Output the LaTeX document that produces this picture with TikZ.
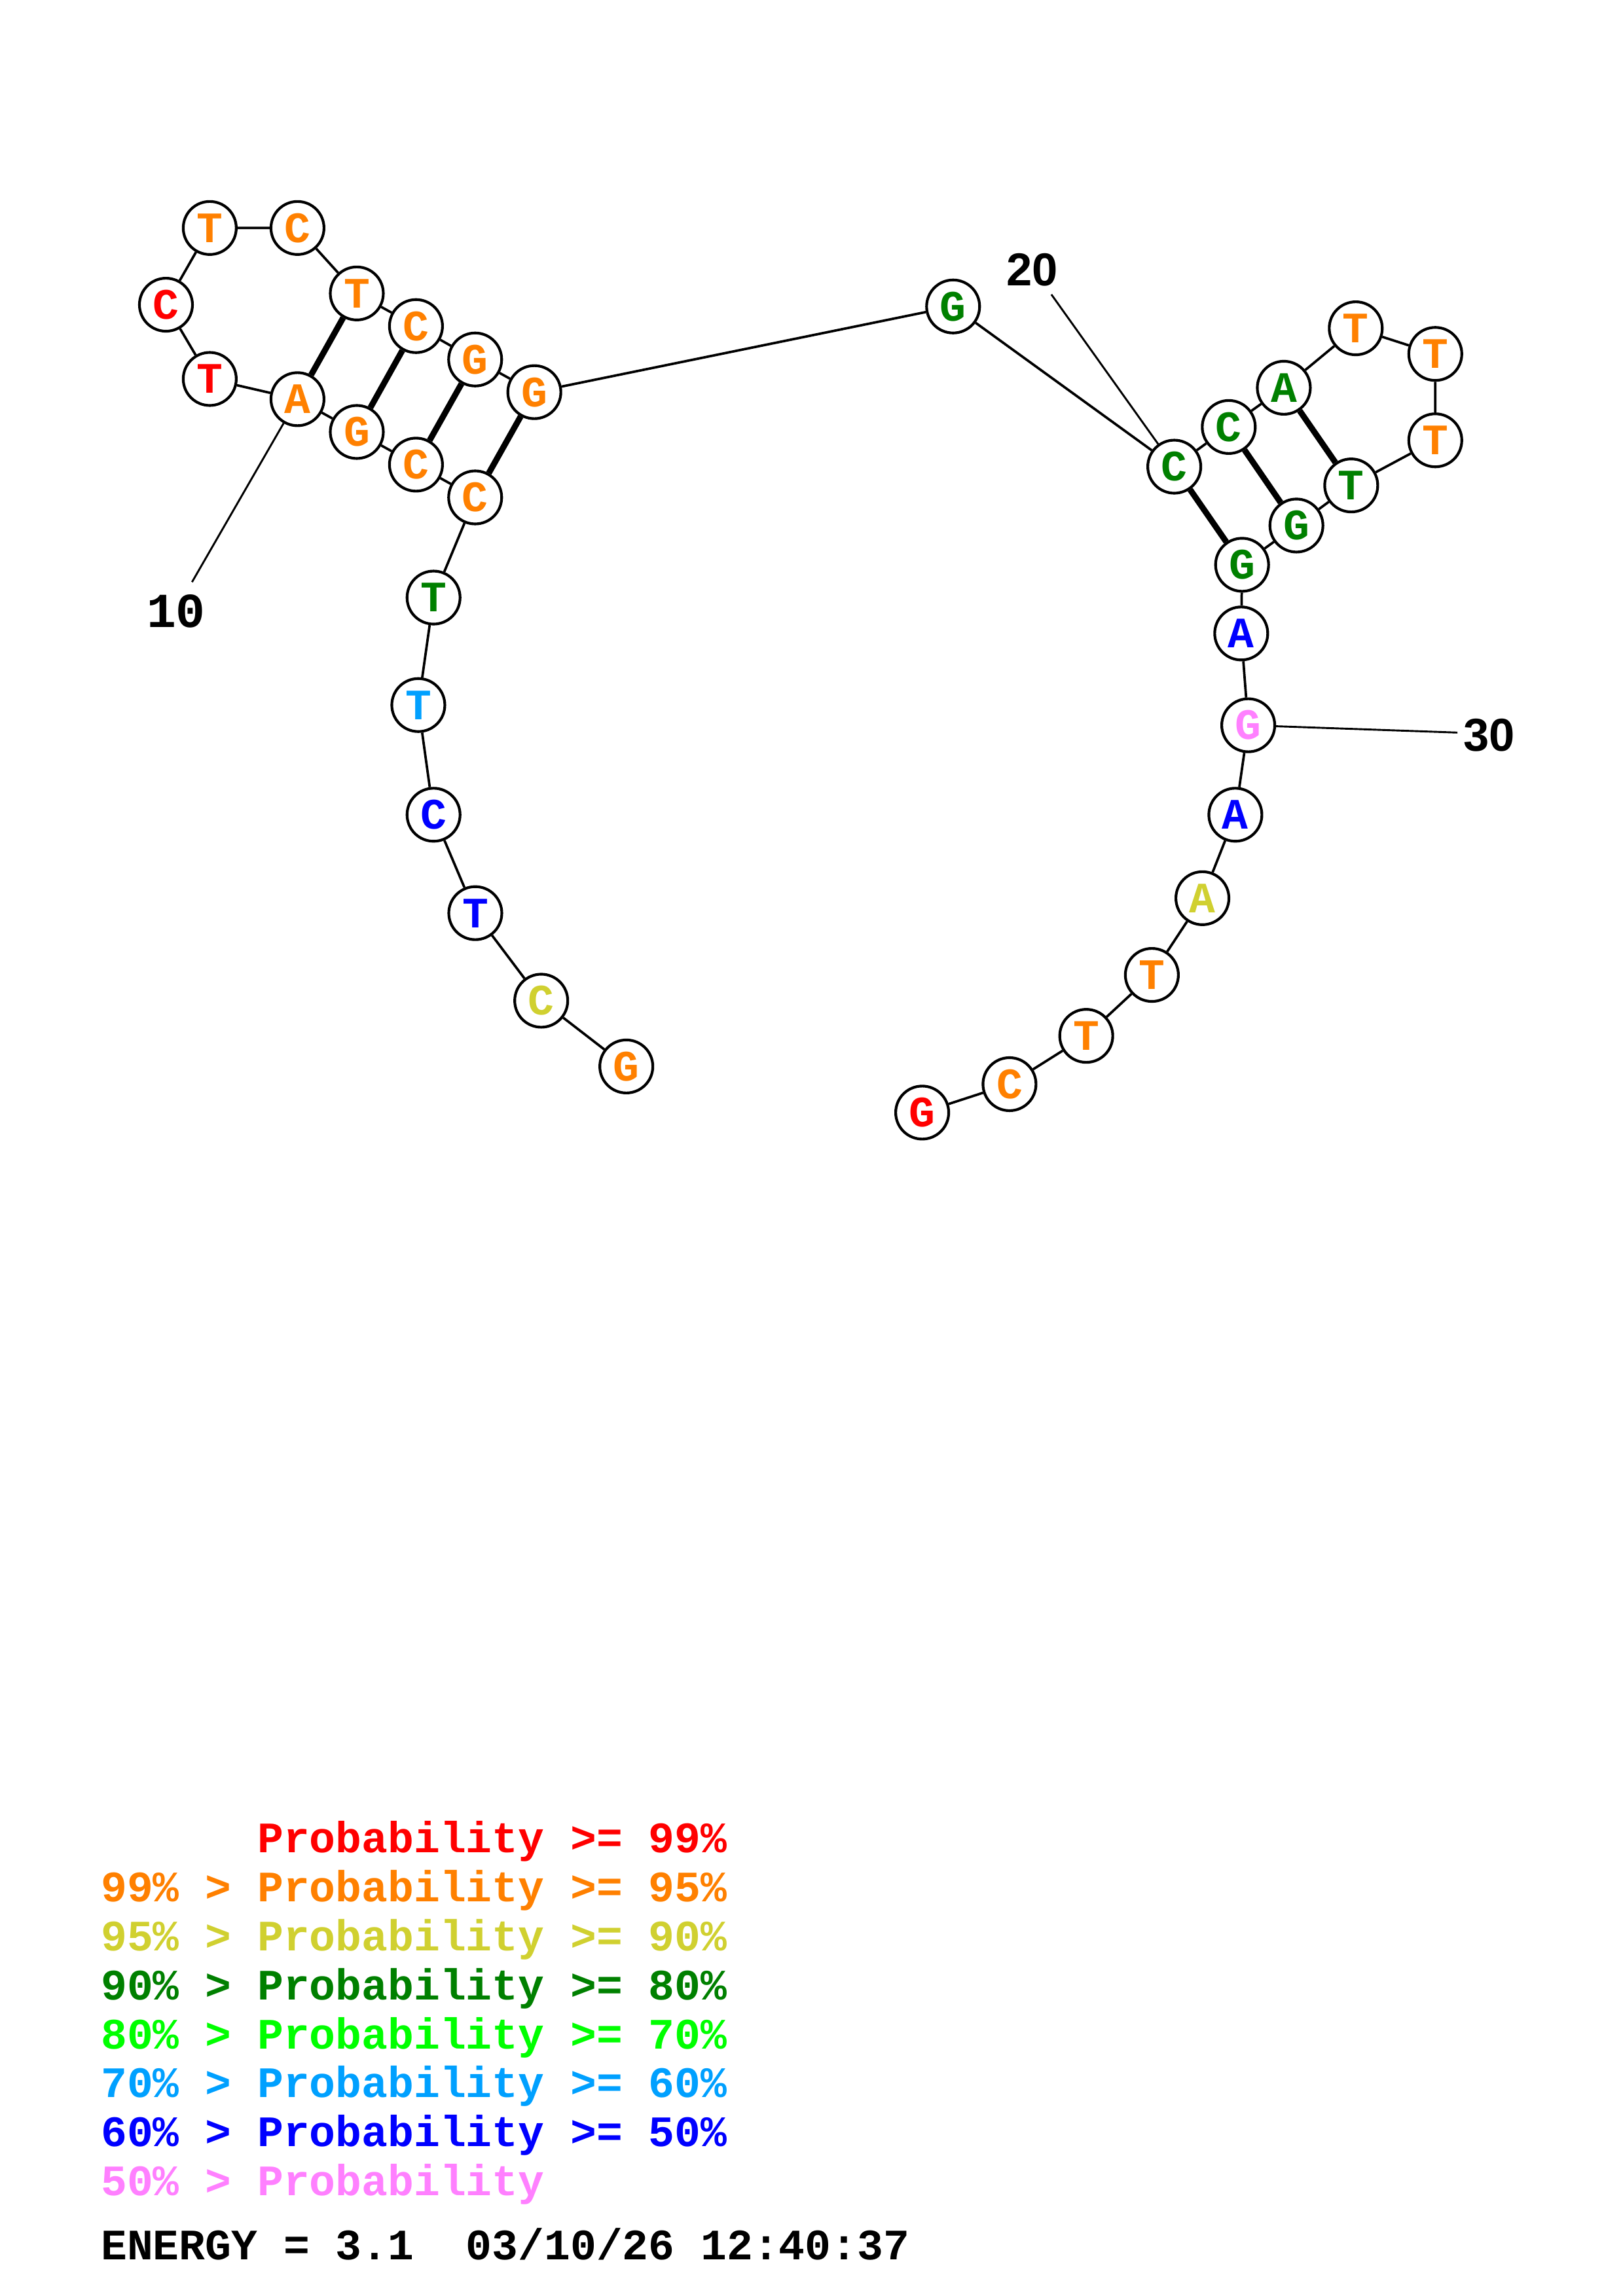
\documentclass[tikz,border=0pt]{standalone}
\usepackage{fontspec}
\setmonofont{Liberation Mono}
\newfontfamily\numsans{Liberation Sans}
\definecolor{cRed}{RGB}{255,0,0}
\definecolor{cOrange}{RGB}{255,128,0}
\definecolor{cYellow}{RGB}{208,208,48}
\definecolor{cDkGreen}{RGB}{0,128,0}
\definecolor{cGreen}{RGB}{0,255,0}
\definecolor{cLtBlue}{RGB}{0,160,255}
\definecolor{cBlue}{RGB}{0,0,255}
\definecolor{cPink}{RGB}{255,128,255}
\tikzstyle{ntnode} = [draw, circle, minimum size=0.686cm, inner sep=0, line width=1pt, font=\ttfamily\bfseries\fontsize{16}{16}\selectfont]
\tikzstyle{pRed} = [text=cRed]
\tikzstyle{pOrange} = [text=cOrange]
\tikzstyle{pYellow} = [text=cYellow]
\tikzstyle{pDkGreen} = [text=cDkGreen]
\tikzstyle{pLtBlue} = [text=cLtBlue]
\tikzstyle{pBlue} = [text=cBlue]
\tikzstyle{pPink} = [text=cPink]
\tikzstyle{backbone} = [line width=0.9pt]
\tikzstyle{pairline} = [line width=2.2pt]
\tikzstyle{tickline} = [line width=0.7pt]
\tikzstyle{legtext} = [anchor=base west, inner sep=0, font=\ttfamily\bfseries\fontsize{16}{18}\selectfont]

\begin{document}
\begin{tikzpicture}[x=0.018953cm, y=-0.018953cm]
    \useasboundingbox (0,0) rectangle (1108,1568);
    % 5' strand
    \node[ntnode, pOrange] (base_1) at (427.6,728.3) {G};
    \node[ntnode, pYellow] (base_2) at (369.5,683.4) {C};
    \node[ntnode, pBlue] (base_3) at (324.5,623.6) {T};
    \node[ntnode, pBlue] (base_4) at (296,556.4) {C};
    \node[ntnode, pLtBlue] (base_5) at (285.6,481.5) {T};
    \node[ntnode, pDkGreen] (base_6) at (296,408.1) {T};
    % first hairpin
    \node[ntnode, pOrange] (base_7) at (324.4,339.7) {C};
    \node[ntnode, pOrange] (base_8) at (284,317.3) {C};
    \node[ntnode, pOrange] (base_9) at (243.6,295) {G};
    \node[ntnode, pOrange] (base_10) at (203.1,272.6) {A};
    \node[ntnode, pRed] (base_11) at (143.2,258.8) {T};
    \node[ntnode, pRed] (base_12) at (113.3,208.1) {C};
    \node[ntnode, pOrange] (base_13) at (143.2,155.7) {T};
    \node[ntnode, pOrange] (base_14) at (203.1,155.7) {C};
    \node[ntnode, pOrange] (base_15) at (243.6,200.4) {T};
    \node[ntnode, pOrange] (base_16) at (284,222.7) {C};
    \node[ntnode, pOrange] (base_17) at (324.4,245.5) {G};
    \node[ntnode, pOrange] (base_18) at (364.8,267.8) {G};
    \node[ntnode, pDkGreen] (base_19) at (650.7,209.3) {G};
    % second hairpin
    \node[ntnode, pDkGreen] (base_20) at (801.7,318.7) {C};
    \node[ntnode, pDkGreen] (base_21) at (838.9,291.6) {C};
    \node[ntnode, pDkGreen] (base_22) at (876.5,264.8) {A};
    \node[ntnode, pOrange] (base_23) at (925.6,224.2) {T};
    \node[ntnode, pOrange] (base_24) at (979.9,241.7) {T};
    \node[ntnode, pOrange] (base_25) at (979.9,300.7) {T};
    \node[ntnode, pDkGreen] (base_26) at (922.5,331.5) {T};
    \node[ntnode, pDkGreen] (base_27) at (885.1,358.9) {G};
    \node[ntnode, pDkGreen] (base_28) at (848,385.7) {G};
    % 3' strand
    \node[ntnode, pBlue] (base_29) at (847.4,432.6) {A};
    \node[ntnode, pPink] (base_30) at (852.2,495.3) {G};
    \node[ntnode, pBlue] (base_31) at (843.4,556.4) {A};
    \node[ntnode, pYellow] (base_32) at (820.9,613.4) {A};
    \node[ntnode, pOrange] (base_33) at (786.4,665.8) {T};
    \node[ntnode, pOrange] (base_34) at (741.6,707.4) {T};
    \node[ntnode, pOrange] (base_35) at (689.2,740.4) {C};
    \node[ntnode, pRed] (base_36) at (629.6,759.8) {G};
    % backbone
    \draw[backbone] (base_1) -- (base_2) -- (base_3) -- (base_4) -- (base_5) -- (base_6)
        -- (base_7) -- (base_8) -- (base_9) -- (base_10) -- (base_11) -- (base_12);
    \draw[backbone] (base_12) -- (base_13) -- (base_14) -- (base_15) -- (base_16)
        -- (base_17) -- (base_18) -- (base_19) -- (base_20) -- (base_21) -- (base_22) -- (base_23);
    \draw[backbone] (base_23) -- (base_24) -- (base_25) -- (base_26) -- (base_27) -- (base_28)
        -- (base_29) -- (base_30) -- (base_31) -- (base_32) -- (base_33) -- (base_34)
        -- (base_35) -- (base_36);
    % pairs
    \draw[pairline] (base_7) -- (base_18);
    \draw[pairline] (base_8) -- (base_17);
    \draw[pairline] (base_9) -- (base_16);
    \draw[pairline] (base_10) -- (base_15);
    \draw[pairline] (base_20) -- (base_28);
    \draw[pairline] (base_21) -- (base_27);
    \draw[pairline] (base_22) -- (base_26);
    % numbering
    \coordinate (tick_10) at (131.1,397.5);
    \coordinate (tick_20) at (717.8,201.1);
    \coordinate (tick_30) at (995,500.3);
    \draw[tickline] (base_10) -- (tick_10);
    \draw[tickline] (base_20) -- (tick_20);
    \draw[tickline] (base_30) -- (tick_30);
    \node[font=\ttfamily\bfseries\fontsize{18}{18}\selectfont] (lab_10) at (120.2,417.3) {10};
    \node[font=\numsans\bfseries\fontsize{17}{17}\selectfont] (lab_20) at (704.7,184.3) {20};
    \node[font=\numsans\bfseries\fontsize{17}{17}\selectfont] (lab_30) at (1016.8,502.1) {30};
    % legend
    \node[legtext, text=cRed] (leg_1) at (68.6,1265.3) {\hphantom{99\% > }Probability >= 99\%};
    \node[legtext, text=cOrange] (leg_2) at (68.6,1298.7) {99\% > Probability >= 95\%};
    \node[legtext, text=cYellow] (leg_3) at (68.6,1332.2) {95\% > Probability >= 90\%};
    \node[legtext, text=cDkGreen] (leg_4) at (68.6,1365.6) {90\% > Probability >= 80\%};
    \node[legtext, text=cGreen] (leg_5) at (68.6,1399.1) {80\% > Probability >= 70\%};
    \node[legtext, text=cLtBlue] (leg_6) at (68.6,1432.5) {70\% > Probability >= 60\%};
    \node[legtext, text=cBlue] (leg_7) at (68.6,1466.0) {60\% > Probability >= 50\%};
    \node[legtext, text=cPink] (leg_8) at (68.6,1499.4) {50\% > Probability};
    \node[legtext] (energy) at (68.6,1543.3) {ENERGY = 3.1\ \ 03/10/26 12:40:37};
\end{tikzpicture}
\end{document}
